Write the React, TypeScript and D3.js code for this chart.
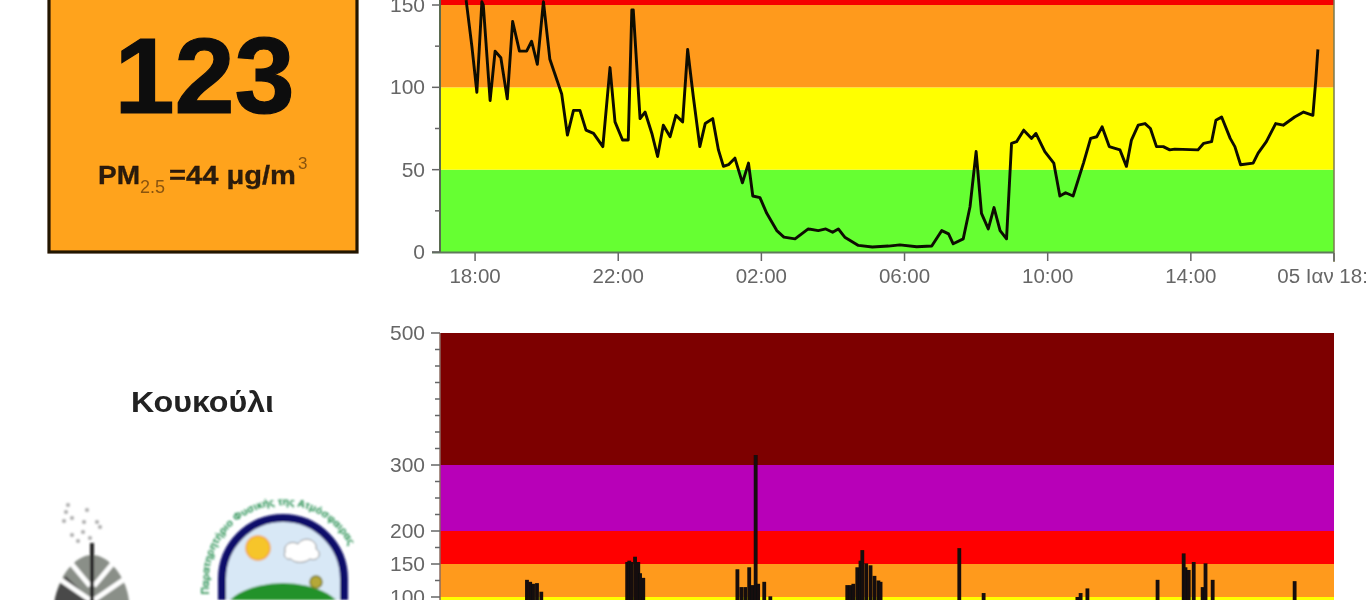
import React from "react";
import * as d3 from "d3";

// Top chart: hours after 18:00, AQI value
const topHours = [-0.25,-0.09,0.05,0.19,0.23,0.42,0.56,0.72,0.9,1.05,1.24,1.44,1.58,1.74,1.91,2.09,2.42,2.58,2.75,2.93,3.1,3.31,3.57,3.77,3.91,4.12,4.28,4.38,4.42,4.61,4.75,4.94,5.1,5.26,5.45,5.61,5.8,5.94,6.1,6.28,6.43,6.64,6.8,6.94,7.08,7.26,7.47,7.64,7.76,7.96,8.15,8.43,8.63,8.94,9.31,9.59,9.8,9.99,10.15,10.33,10.71,11.1,11.55,11.87,12.34,12.76,13.04,13.23,13.36,13.64,13.83,14.0,14.15,14.34,14.5,14.67,14.85,14.99,15.13,15.33,15.55,15.67,15.92,16.17,16.34,16.5,16.71,17.0,17.2,17.37,17.52,17.72,18.02,18.2,18.34,18.53,18.72,18.87,19.04,19.23,19.41,19.55,20.2,20.36,20.58,20.7,20.86,21.1,21.23,21.39,21.74,21.88,22.11,22.37,22.58,22.9,23.15,23.41,23.49,23.55];
const topValues = [153,125,97,152,150,92,122,118,93,140,122,122,128,114,152,117,96,71,86,86,74,72,64,112,79,68,68,147,147,81,85,72,58,77,70,83,79,123,94,64,78,81,62,52,53,57,42,54,34,33,23.5,13,9,8,14,13,14,12,14,9,4,3,3.6,4.3,3.2,3.6,13,11,5,8,27.5,61,23.5,14,27,13,8,66,67,74,69,72,61,54,34,36,34,54,69,70,76,64,62,52,68,77,78,75,64,64,62,62.5,62,66,67,80,82,69,64,53,54,60,67,78,77,82,85,83,104,123];

// Bottom chart: spike clusters (hours after 18:00, value)
const spikeHours = [1.45,1.54,1.62,1.73,1.85,4.25,4.31,4.36,4.47,4.56,4.61,4.70,7.33,7.44,7.55,7.66,7.75,7.84,7.91,8.08,8.25,10.40,10.49,10.57,10.68,10.77,10.82,10.93,11.05,11.16,11.27,11.33,13.53,14.21,16.83,16.92,17.11,19.07,19.80,19.85,19.94,20.08,20.33,20.41,20.61,22.90];
const spikeValues = [126,123,120,121,108,153,155,153,161,153,136,129,142,115,115,145,118,315,120,123,101,118,118,120,145,155,171,151,148,132,125,123,174,106,100,106,113,126,166,145,141,153,115,151,126,124];

const topBands = [
  { from: 0, to: 50, color: "#66ff33" },
  { from: 50, to: 100, color: "#ffff00" },
  { from: 100, to: 150, color: "#ff9a1c" },
  { from: 150, to: 165, color: "#f50000" },
];
const bottomBands = [
  { from: 90, to: 100, color: "#ffff00" },
  { from: 100, to: 150, color: "#ff9a1c" },
  { from: 150, to: 200, color: "#ff0000" },
  { from: 200, to: 300, color: "#b800b8" },
  { from: 300, to: 500, color: "#7d0000" },
];
const topMajor = [0, 50, 100, 150];
const topMinor = [25, 75, 125];
const bottomMajor = [100, 150, 200, 300, 500];
const bottomMinor = [125, 175, 225, 250, 275, 325, 350, 375, 400, 425, 450, 475];
const xTickHours = [0, 4, 8, 12, 16, 20, 24];
const xTickLabels = ["18:00", "22:00", "02:00", "06:00", "10:00", "14:00", "05 Ιαν 18:00"];

const smoke = [[68,505],[87,510],[64,521],[72,518],[84,522],[97,522],[100,527],[83,532],[72,535],[78,541],[90,538],[66,512]];

const LEFT = 440, RIGHT = 1334;
const x = d3.scaleLinear().domain([-0.98, 24]).range([LEFT, RIGHT]);
const yTop = d3.scaleLinear().domain([0, 150]).range([252, 5]);
const yBot = d3.scaleLinear().domain([100, 500]).range([597, 333]);

const GREY = "#666666";
const FONT = "'Liberation Sans', Arial, sans-serif";

export default function App() {
  const topLine = d3.line<number>().x((h) => x(h)).y((_, i) => yTop(topValues[i]))(topHours) as string;
  return (
    <svg width={1366} height={600} style={{ position: "absolute", left: 0, top: 0, display: "block" }} fontFamily={FONT}>
      <defs>
        <filter id="soft" x="-2%" y="-2%" width="104%" height="104%">
          <feGaussianBlur stdDeviation="0.6" />
        </filter>
        <filter id="softer" x="-5%" y="-5%" width="110%" height="110%">
          <feGaussianBlur stdDeviation="0.9" />
        </filter>
        <clipPath id="topClip"><rect x={LEFT} y={-20} width={RIGHT - LEFT} height={272} /></clipPath>
        <clipPath id="archClip"><path d="M222 600 V579 A61 61 0 0 1 344 579 V600 Z" /></clipPath>
        <path id="ring" d="M209 600 V579 A74 74 0 0 1 357 579 V600" fill="none" />
      </defs>

      <g filter="url(#soft)">
        {/* AQI box */}
        <rect x={49} y={-10} width={308} height={262} fill="#ffa31c" stroke="#241606" strokeWidth={3.2} />
        <text x={204.5} y={113} fontSize={108} fontWeight="bold" textAnchor="middle" fill="#0c0c0c" stroke="#0c0c0c" strokeWidth={1.2}>123</text>
        <text x={98} y={184} fontSize={25} fontWeight="bold" fill="#2a1a08" stroke="#2a1a08" strokeWidth={0.3} textLength={42} lengthAdjust="spacingAndGlyphs">PM</text>
        <text x={140} y={193} fontSize={18} fill="#8a5410">2.5</text>
        <text x={169} y={184} fontSize={25} fontWeight="bold" fill="#2a1a08" stroke="#2a1a08" strokeWidth={0.3} textLength={127} lengthAdjust="spacingAndGlyphs">=44 μg/m</text>
        <text x={298} y={169} fontSize={17} fill="#8a5410">3</text>

        {/* Top chart */}
        {topBands.map((b) => (
          <rect key={b.from} x={LEFT} width={RIGHT - LEFT} y={yTop(b.to)} height={yTop(b.from) - yTop(b.to)} fill={b.color} />
        ))}
        <path d={topLine} fill="none" stroke="#0e0a06" strokeWidth={2.9} strokeLinejoin="round" clipPath="url(#topClip)" />
        <line x1={LEFT} x2={LEFT} y1={0} y2={253} stroke="#5a6a50" strokeWidth={2} />
        <line x1={RIGHT} x2={RIGHT} y1={0} y2={262} stroke="#7a7a50" strokeWidth={1.5} />
        <line x1={432} x2={RIGHT} y1={252.5} y2={252.5} stroke="#5f7a5a" strokeWidth={2} />
        {topMajor.map((v) => (
          <g key={v}>
            <line x1={432} x2={LEFT} y1={yTop(v)} y2={yTop(v)} stroke={GREY} strokeWidth={1.5} />
            <text x={425} y={yTop(v) + 7} fontSize={21} textAnchor="end" fill={GREY}>{v}</text>
          </g>
        ))}
        {topMinor.map((v) => (
          <line key={v} x1={435} x2={LEFT} y1={yTop(v)} y2={yTop(v)} stroke={GREY} strokeWidth={1.5} />
        ))}
        {xTickHours.map((h, i) => (
          <g key={h}>
            <line x1={x(h)} x2={x(h)} y1={253} y2={261} stroke={GREY} strokeWidth={1.5} />
            <text x={x(h)} y={283} fontSize={20.5} textAnchor="middle" fill={GREY}>{xTickLabels[i]}</text>
          </g>
        ))}

        {/* Bottom chart */}
        {bottomBands.map((b) => (
          <rect key={b.from} x={LEFT} width={RIGHT - LEFT} y={yBot(b.to)} height={yBot(b.from) - yBot(b.to)} fill={b.color} />
        ))}
        {spikeHours.map((h, i) => (
          <line key={i} x1={x(h)} x2={x(h)} y1={yBot(spikeValues[i])} y2={610} stroke="#120c08" strokeWidth={3.8} />
        ))}
        <line x1={LEFT} x2={LEFT} y1={333} y2={600} stroke="#8a6a60" strokeWidth={1.5} />
        {bottomMajor.map((v) => (
          <g key={v}>
            <line x1={431} x2={LEFT} y1={yBot(v)} y2={yBot(v)} stroke={GREY} strokeWidth={1.5} />
            <text x={425} y={yBot(v) + 7} fontSize={21} textAnchor="end" fill={GREY}>{v}</text>
          </g>
        ))}
        {bottomMinor.map((v) => (
          <line key={v} x1={435} x2={LEFT} y1={yBot(v)} y2={yBot(v)} stroke={GREY} strokeWidth={1.5} />
        ))}

        {/* Station name */}
        <text x={131} y={412} fontSize={29} fontWeight="bold" fill="#222" textLength={143} lengthAdjust="spacingAndGlyphs">Κουκούλι</text>
      </g>

      {/* Logos */}
      <g filter="url(#softer)">
        {smoke.map(([sx, sy], i) => (
          <circle key={i} cx={sx} cy={sy} r={2} fill="#aaa" />
        ))}
        <path d="M55 612 C52 585 72 555 92 555 C112 555 132 585 129 612 Z" fill="#8a8f88" />
        <path d="M55 612 C52 600 58 585 66 576 L90 600 L90 612 Z" fill="#4a4a4a" />
        <path d="M58 578 L90 600 M70 562 L90 586 M126 578 L94 600 M114 562 L94 586" stroke="#fff" strokeWidth={5} fill="none" />
        <rect x={90} y={543} width={4} height={60} fill="#222" />

        <circle cx={283} cy={579} r={61} fill="#d8e8f6" clipPath="url(#archClip)" />
        <circle cx={258} cy={548} r={12} fill="#f6c52c" stroke="#f2a040" strokeWidth={1.5} />
        <path d="M285 552 C283 544 292 540 298 544 C304 535 318 540 316 549 C323 553 318 562 310 559 C304 564 294 563 291 559 C286 560 283 556 285 552 Z" fill="#fff" stroke="#888" strokeWidth={1} />
        <ellipse cx={283} cy={618} rx={62} ry={35} fill="#22922a" clipPath="url(#archClip)" />
        <circle cx={316} cy={582} r={6} fill="#b5a838" stroke="#7a7a20" strokeWidth={1.5} />
        <path d="M222 600 V579 A61 61 0 0 1 344 579 V600" fill="none" stroke="#10106a" strokeWidth={8} />
        <text fontSize={10.5} fontWeight="bold" fill="#1f8a4a">
          <textPath href="#ring" startOffset="2%">Παρατηρητήριο Φυσικής της Ατμόσφαιρας</textPath>
        </text>
      </g>
    </svg>
  );
}
